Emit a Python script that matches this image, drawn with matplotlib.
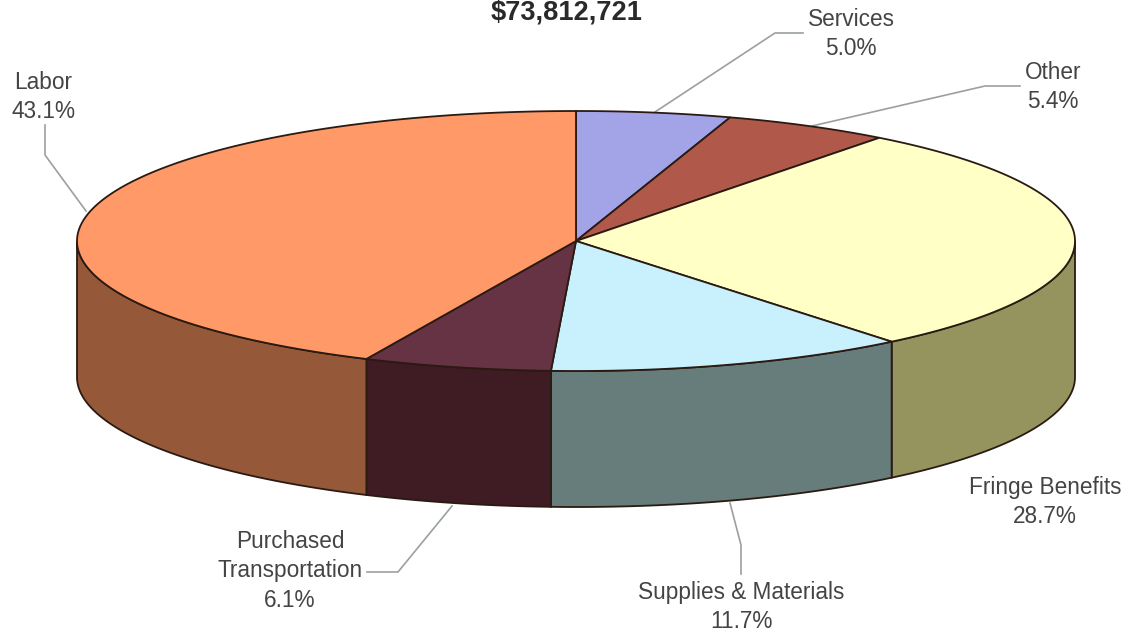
import numpy as np
import matplotlib
matplotlib.use("Agg")
import matplotlib.pyplot as plt
from matplotlib.patches import Polygon

plt.rcParams['font.family'] = ['Liberation Sans', 'DejaVu Sans']

title = "$73,812,721"
categories = ["Services", "Other", "Fringe Benefits", "Supplies & Materials",
              "Purchased\nTransportation", "Labor"]
shares = [5.0, 5.4, 28.7, 11.7, 6.1, 43.1]
top_colors = ["#a3a3e8", "#b0584a", "#ffffc6", "#c9f1fd", "#663344", "#ff9a68"]
side_colors = ["#6d6d9c", "#763b32", "#95945f", "#667d7b", "#3f1b24", "#95593a"]

# pie geometry in image pixels
cx, cy = 576, 241
rx, ry = 499, 130
depth = 136

# label position (px) and leader line for each slice
label_pos = [(851, 34), (1053, 87), (1045, 502), (741, 607), (290, 571), (43, 97)]
leaders = [
    [(655, 112), (775, 33), (803, 33)],
    [(812, 126), (985, 86), (1020, 86)],
    None,
    [(730, 503), (741, 545), (741, 574)],
    [(452, 506), (398, 572), (367, 572)],
    [(86, 211), (45, 155), (45, 125)],
]


def rim(a0, a1, n=120):
    # angles are clockwise from 12 o'clock
    t = np.radians(np.linspace(a0, a1, n))
    return cx + rx * np.sin(t), cy - ry * np.cos(t)


fig = plt.figure(figsize=(11.28, 6.37), dpi=100)
ax = fig.add_axes([0, 0, 1, 1])
ax.set_xlim(0, 1128)
ax.set_ylim(637, 0)
ax.axis("off")

edges = np.concatenate([[0], np.cumsum(shares)]) / sum(shares) * 360

# front wall first
for i in range(len(shares)):
    a0, a1 = max(edges[i], 90), min(edges[i + 1], 270)
    if a1 <= a0:
        continue
    x, y = rim(a0, a1)
    pts = np.column_stack([np.r_[x, x[::-1]], np.r_[y, y[::-1] + depth]])
    ax.add_patch(Polygon(pts, closed=True, fc=side_colors[i], ec="#2a1a12", lw=1.3, zorder=2))

# top face
for i in range(len(shares)):
    x, y = rim(edges[i], edges[i + 1])
    pts = np.column_stack([np.r_[cx, x], np.r_[cy, y]])
    ax.add_patch(Polygon(pts, closed=True, fc=top_colors[i], ec="#2a1a12", lw=1.3, zorder=3))

for line in leaders:
    if line:
        xs, ys = zip(*line)
        ax.plot(xs, ys, color="#9aa0a0", lw=1.2, zorder=1)

for i, name in enumerate(categories):
    ax.text(label_pos[i][0], label_pos[i][1], f"{name}\n{shares[i]:.1f}%", ha="center", va="center",
            fontsize=16.3, color="#444444", linespacing=1.35, zorder=4)

ax.text(567, 12, title, ha="center", va="center", fontsize=19.6, fontweight="bold", color="#2a2a2a")

fig.savefig("out.png", dpi=100)
